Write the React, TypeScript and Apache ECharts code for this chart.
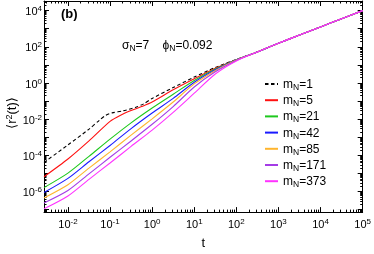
import React, { useEffect, useRef } from 'react';
import * as echarts from 'echarts';

const FONT = '"Liberation Sans", Arial, Helvetica, "DejaVu Sans", sans-serif';

// axis ranges (data units)
const X_MIN = 0.0027;
const X_MAX = 100000;
const Y_MIN = 7.4e-8;
const Y_MAX = 3.4e4;

// tick label exponents
const xLabelExp = [-2, -1, 0, 1, 2, 3, 4, 5];
const yLabelExp = [-6, -4, -2, 0, 2, 4];

// time grids
const tMain = [0.0027, 0.01, 0.0316, 0.1, 0.316, 1, 3.16, 10, 31.6, 100, 316, 1000, 3162, 10000, 31623, 100000];
const tBlack = [0.0027, 0.01, 0.0316, 0.0562, 0.0794, 0.112, 0.2, 0.398, 0.631, 1, 3.16, 10, 31.6, 100, 316, 1000, 3162, 10000, 31623, 100000];
const tRed = [0.0027, 0.01, 0.0316, 0.1, 0.178, 0.316, 0.562, 1, 3.16, 10, 31.6, 100, 316, 1000, 3162, 10000, 31623, 100000];

// <r^2(t)> values
const r2_m1 = [4.07e-5, 3.8e-4, 2.82e-3, 8.91e-3, 0.0166, 0.0224, 0.0288, 0.0447, 0.0708, 0.141, 0.562, 2.14, 7.24, 20.0, 52.5, 158, 447, 1259, 3548, 10000];
const r2_m5 = [6.61e-6, 6.31e-5, 6.31e-4, 7.59e-3, 0.0166, 0.0302, 0.0501, 0.0891, 0.427, 1.74, 6.61, 19.5, 52.5, 158, 447, 1259, 3548, 10000];
const r2_m21 = [1.66e-6, 1.05e-5, 8.91e-5, 7.94e-4, 6.31e-3, 0.0417, 0.24, 1.38, 5.89, 19.1, 52.5, 158, 447, 1259, 3548, 10000];
const r2_m42 = [8.91e-7, 5.37e-6, 4.47e-5, 3.55e-4, 3.02e-3, 0.0219, 0.141, 1.1, 5.37, 19.1, 52.5, 158, 447, 1259, 3548, 10000];
const r2_m85 = [4.47e-7, 2.4e-6, 2.0e-5, 1.58e-4, 1.32e-3, 0.0105, 0.0891, 0.891, 4.79, 18.6, 52.5, 158, 447, 1259, 3548, 10000];
const r2_m171 = [2.34e-7, 1.15e-6, 9.55e-6, 7.94e-5, 6.31e-4, 5.25e-3, 0.0501, 0.603, 4.17, 17.8, 52.5, 158, 447, 1259, 3548, 10000];
const r2_m373 = [1.12e-7, 5.75e-7, 4.79e-6, 3.8e-5, 3.16e-4, 2.51e-3, 0.024, 0.275, 3.16, 16.6, 52.5, 158, 447, 1259, 3548, 10000];

const seriesNames = ['mN=1', 'mN=5', 'mN=21', 'mN=42', 'mN=85', 'mN=171', 'mN=373'];
const seriesColors = ['#000000', '#ff1010', '#1ec81e', '#1a1aff', '#ffb52e', '#a43ce6', '#ff33ff'];

const L = (v: number) => Math.log10(v);

function majorTicks(lo: number, hi: number) {
  const out: number[] = [];
  for (let n = Math.ceil(lo); n <= Math.floor(hi); n++) out.push(n);
  return out;
}
function minorTicks(lo: number, hi: number) {
  const out: number[] = [];
  for (let n = Math.floor(lo) - 1; n <= Math.ceil(hi); n++) {
    for (let k = 2; k <= 9; k++) {
      const v = n + Math.log10(k);
      if (v > lo && v < hi) out.push(v);
    }
  }
  return out;
}

const labelRich = {
  b: { fontSize: 11, fontFamily: FONT, color: '#000', lineHeight: 12, verticalAlign: 'bottom' },
  s: { fontSize: 8, fontFamily: FONT, color: '#000', lineHeight: 8, padding: [0, 0, 6, 0], verticalAlign: 'top' },
};
const powLabel = (v: number) => `{b|10}{s|${Math.round(v)}}`;

function makeAxis(
  min: number,
  max: number,
  position: string,
  ticks: number[],
  len: number,
  showLine: boolean,
  labels?: number[],
  margin?: number,
  extra?: any
) {
  return {
    type: 'value',
    min,
    max,
    position,
    axisLine: { show: showLine, onZero: false, lineStyle: { color: '#000', width: 1 } },
    axisTick: { show: true, inside: true, length: len, customValues: ticks, lineStyle: { color: '#000', width: 1 } },
    axisLabel: labels
      ? { show: true, customValues: labels, formatter: powLabel, rich: labelRich, margin, color: '#000' }
      : { show: false },
    splitLine: { show: false },
    ...(extra || {}),
  };
}

export default function App() {
  const ref = useRef<HTMLDivElement>(null);
  useEffect(() => {
    if (!ref.current) return;
    const chart = echarts.init(ref.current, undefined, { renderer: 'svg' });
    const xmin = L(X_MIN), xmax = L(X_MAX), ymin = L(Y_MIN), ymax = L(Y_MAX);
    const xMaj = majorTicks(xmin, xmax), xMin = minorTicks(xmin, xmax);
    const yMaj = majorTicks(ymin, ymax), yMin = minorTicks(ymin, ymax);

    const defs = [
      { t: tBlack, r: r2_m1 },
      { t: tRed, r: r2_m5 },
      { t: tMain, r: r2_m21 },
      { t: tMain, r: r2_m42 },
      { t: tMain, r: r2_m85 },
      { t: tMain, r: r2_m171 },
      { t: tMain, r: r2_m373 },
    ];

    chart.setOption({
      animation: false,
      grid: { left: 44, right: 10, top: 1, bottom: 31 },
      xAxis: [
        makeAxis(xmin, xmax, 'bottom', xMaj, 5, true, xLabelExp, 5, {
          name: 't',
          nameLocation: 'middle',
          nameGap: 17,
          nameTextStyle: { fontSize: 13, fontFamily: FONT, color: '#000' },
        }),
        makeAxis(xmin, xmax, 'bottom', xMin, 2.5, false),
        makeAxis(xmin, xmax, 'top', xMaj, 5, true),
        makeAxis(xmin, xmax, 'top', xMin, 2.5, false),
      ],
      yAxis: [
        makeAxis(ymin, ymax, 'left', yMaj, 5, true, yLabelExp, 2),
        makeAxis(ymin, ymax, 'left', yMin, 2.5, false),
        makeAxis(ymin, ymax, 'right', yMaj, 5, true),
        makeAxis(ymin, ymax, 'right', yMin, 2.5, false),
      ],
      legend: {
        orient: 'vertical',
        left: 264,
        top: 76.5,
        padding: 0,
        itemGap: 1.2,
        itemWidth: 13,
        itemHeight: 10,
        data: seriesNames,
        itemStyle: { opacity: 0 },
        textStyle: {
          fontSize: 12,
          fontFamily: FONT,
          color: '#000',
          lineHeight: 15,
          rich: {
            sub: { fontSize: 8.5, fontFamily: FONT, color: '#000', lineHeight: 9, padding: [6, 0, 0, 0], verticalAlign: 'top' },
          },
        },
        formatter: (name: string) => name.replace('mN', 'm{sub|N}'),
      },
      graphic: [
        {
          type: 'text',
          x: 61,
          y: 13,
          style: { text: '(b)', fontSize: 13, fontWeight: 'bold', fontFamily: FONT, fill: '#000', verticalAlign: 'middle' },
        },
        {
          type: 'text',
          x: 122,
          y: 45,
          style: {
            text: 'σ{sub|N}=7    ϕ{sub|N}=0.092',
            fontSize: 12,
            fontFamily: FONT,
            fill: '#000',
            verticalAlign: 'middle',
            lineHeight: 15,
            rich: {
              sub: { fontSize: 8.5, fontFamily: FONT, fill: '#000', lineHeight: 9, padding: [6, 0, 0, 0], verticalAlign: 'top' },
            },
          },
        },
        {
          type: 'text',
          x: 11,
          y: 113,
          rotation: Math.PI / 2,
          style: {
            text: '⟨r{sup|2}(t)⟩',
            fontSize: 13,
            fontFamily: FONT,
            fill: '#000',
            align: 'center',
            verticalAlign: 'middle',
            rich: {
              sup: { fontSize: 9, fontFamily: FONT, fill: '#000', lineHeight: 9, padding: [0, 0, 9, 0], verticalAlign: 'top' },
            },
          },
        },
      ],
      series: defs.map((d, i) => ({
        type: 'line',
        name: seriesNames[i],
        xAxisIndex: 0,
        yAxisIndex: 0,
        data: d.t.map((t, j) => [L(t), L(d.r[j])]),
        symbol: 'none',
        showSymbol: false,
        smooth: 0.25,
        z: 2 + i,
        lineStyle: { color: seriesColors[i], width: 1.1, type: i === 0 ? [3.5, 2.5] : 'solid' },
        itemStyle: { color: seriesColors[i] },
      })),
    });
    return () => chart.dispose();
  }, []);
  return <div ref={ref} style={{ position: 'fixed', left: 0, top: 0, width: 374, height: 254 }} />;
}
